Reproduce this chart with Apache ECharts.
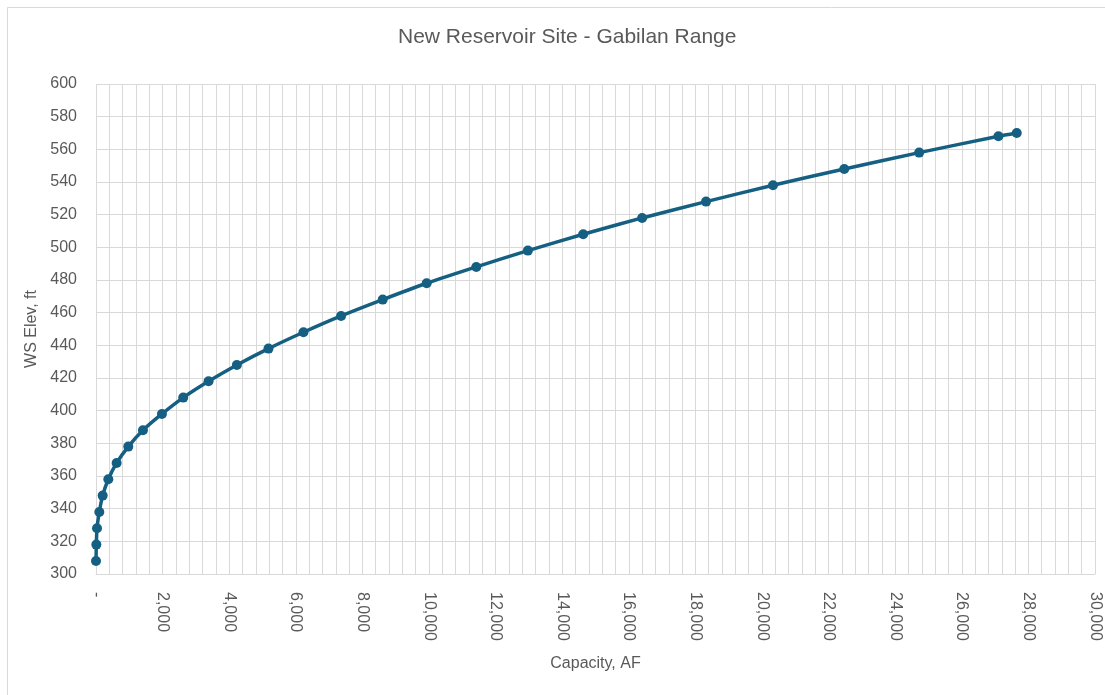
<!DOCTYPE html>
<html>
<head>
<meta charset="utf-8">
<script src="https://cdn.jsdelivr.net/npm/echarts@6/dist/echarts.min.js"></script>
<style>
  html, body { margin: 0; padding: 0; background: #fff; }
  #chart { width: 1105px; height: 695px; }
</style>
</head>
<body>
<div id="chart"></div>
<script>
// capacity (AF), one per elevation step
const capacity = [0, 10, 30, 100, 200, 370, 620, 970, 1410, 1980, 2620, 3380, 4230, 5180, 6230, 7360, 8610, 9930, 11420, 12970, 14630, 16400, 18320, 20330, 22470, 24720, 27100, 27650];
// water surface elevation (ft)
const elevation = [308, 318, 328, 338, 348, 358, 368, 378, 388, 398, 408, 418, 428, 438, 448, 458, 468, 478, 488, 498, 508, 518, 528, 538, 548, 558, 568, 570];

const textColor = '#595959';
const gridColor = '#d9d9d9';
const lineColor = '#156082';
const font = '"Liberation Sans", Arial, sans-serif';

const chart = echarts.init(document.getElementById('chart'), null, { renderer: 'canvas' });

const option = {
  backgroundColor: '#fff',
  animation: false,
  title: {
    text: 'New Reservoir Site - Gabilan Range',
    left: 393,
    top: 22,
    textStyle: { color: textColor, fontSize: 21, fontWeight: 'normal', fontFamily: font }
  },
  graphic: [{
    type: 'rect',
    shape: { x: 7.5, y: 7.5, width: 1110, height: 700 },
    style: { fill: 'none', stroke: gridColor, lineWidth: 1 },
    silent: true
  }],
  grid: { left: 96, right: 10, top: 84, bottom: 121 },
  xAxis: {
    type: 'value',
    min: 0,
    max: 30000,
    interval: 2000,
    name: 'Capacity, AF',
    nameLocation: 'middle',
    nameGap: 82,
    nameTextStyle: { color: textColor, fontSize: 16, fontFamily: font },
    axisLine: { show: true, lineStyle: { color: gridColor } },
    axisTick: { show: false },
    axisLabel: {
      rotate: -90,
      margin: 18,
      color: textColor,
      fontSize: 16,
      fontFamily: font,
      formatter: v => v === 0 ? '-' : v.toLocaleString('en-US')
    },
    splitLine: { show: true, lineStyle: { color: gridColor, width: 1 } },
    minorTick: { show: false, splitNumber: 5 },
    minorSplitLine: { show: true, lineStyle: { color: gridColor, width: 1 } }
  },
  yAxis: {
    type: 'value',
    min: 300,
    max: 600,
    interval: 20,
    name: 'WS Elev, ft',
    nameLocation: 'middle',
    nameGap: 54,
    nameTextStyle: { color: textColor, fontSize: 16, fontFamily: font },
    axisLine: { show: false },
    axisTick: { show: false },
    axisLabel: { color: textColor, fontSize: 16, fontFamily: font, margin: 19 },
    splitLine: { show: true, lineStyle: { color: gridColor, width: 1 } }
  },
  series: [{
    type: 'line',
    data: capacity.map((c, i) => [c, elevation[i]]),
    smooth: 0.2,
    symbol: 'circle',
    symbolSize: 10,
    lineStyle: { color: lineColor, width: 3.5 },
    itemStyle: { color: lineColor },
    z: 5
  }]
};

chart.setOption(option);
</script>
</body>
</html>
